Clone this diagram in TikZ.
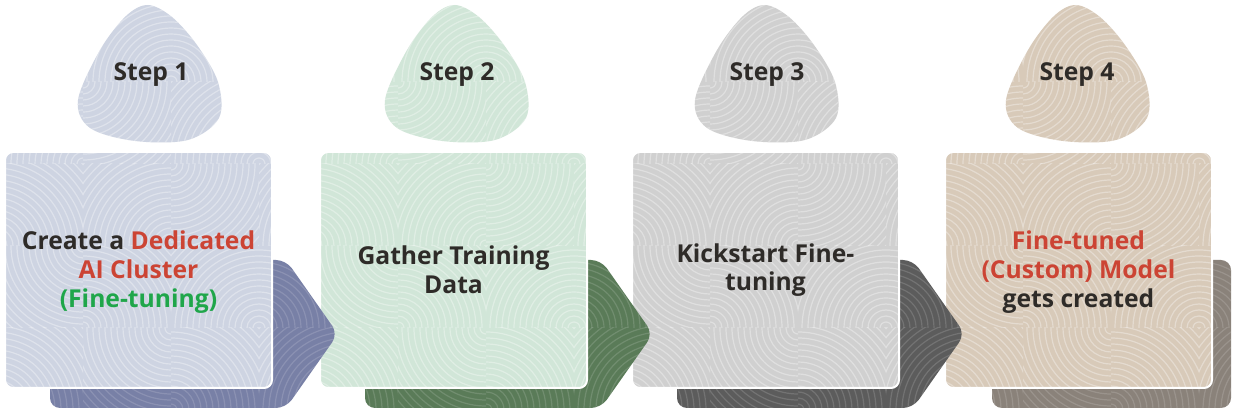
\documentclass[tikz,border=0pt]{standalone}
\usepackage{fontspec}
\setmainfont{Open Sans}
\definecolor{txtdark}{HTML}{2E2B28}
\definecolor{txtred}{HTML}{CC4434}
\definecolor{txtgreen}{HTML}{1FA64A}
\definecolor{lightA}{HTML}{CED4E2}
\definecolor{darkA}{HTML}{7880A6}
\definecolor{lightB}{HTML}{D1E6D8}
\definecolor{darkB}{HTML}{5A7B58}
\definecolor{lightC}{HTML}{D0D0D0}
\definecolor{darkC}{HTML}{5C5C5C}
\definecolor{lightD}{HTML}{D8CAB9}
\definecolor{darkD}{HTML}{8A827A}
\tikzset{
  texline/.style={draw=white, line width=0.9pt, draw opacity=0.33},
  texdark/.style={draw=white, line width=0.9pt, draw opacity=0.14},
  cardtext/.style={font=\fontsize{18.5}{21.5}\selectfont\bfseries, text=txtdark, align=center, inner sep=0pt},
  steptext/.style={font=\fontsize{18.5}{21.5}\selectfont\bfseries, text=txtdark, inner sep=0pt},
}
% one tile of swirl rings: tile corners (#1,#2)-(#3,#4), ring centre (#5,#6), style #7
\newcommand{\tilerings}[7]{\begin{scope}\clip (#1,#2) rectangle (#3,#4);
  \foreach \rr in {6,12,...,132}{\path[#7] (#5,#6) circle[radius=\rr];}\end{scope}}
% texture for one step, cards left edge #1, style #2
\newcommand{\texture}[2]{%
  \foreach \cc/\rw/\dx/\dy in {0/0/0/1, 1/0/1/1, 2/0/0/1, 3/0/1/0,
                               0/1/1/1, 1/1/0/0, 2/1/1/1, 3/1/0/1,
                               0/2/0/1, 1/2/1/1, 2/2/0/0, 3/2/1/1,
                               0/3/1/0, 1/3/0/1, 2/3/1/1, 3/3/0/1,
                               0/4/0/1, 1/4/1/0, 2/4/0/1, 3/4/1/1}{%
    \pgfmathsetmacro{\xa}{#1-10+\cc*88}\pgfmathsetmacro{\ya}{\rw*82}%
    \pgfmathsetmacro{\xb}{\xa+88}\pgfmathsetmacro{\yb}{\ya+82}%
    \pgfmathsetmacro{\xc}{\xa+\dx*88}\pgfmathsetmacro{\yc}{\ya+\dy*82}%
    \tilerings{\xa}{\ya}{\xb}{\yb}{\xc}{\yc}{#2}}}
\newcommand{\arrowpath}[1]{({#1+45},260) -- ({#1+281},260) -- ({#1+333},334) -- ({#1+281},408) -- ({#1+45},408) -- cycle}
\newcommand{\cardpath}[1]{(#1,152) rectangle ({#1+267},388)}
\newcommand{\blobpath}[1]{plot[smooth cycle, tension=0.55] coordinates {({#1-2},5) ({#1+22},17) ({#1+47},45) ({#1+68},82) ({#1+69},118) ({#1+38},140) ({#1-15},141) ({#1-60},128) ({#1-72},100) ({#1-50},50) ({#1-24},16)}}
% back shape of a step: #1 card left, #2 dark colour, #3 path
\newcommand{\backshape}[3]{%
  \fill[#2, rounded corners=7.5pt] #3;
  \begin{scope}\clip[rounded corners=7.5pt] #3; \texture{#1}{texdark}\end{scope}}
% card and blob: #1 card left, #2 blob centre x, #3 light colour
\newcommand{\cardshape}[3]{%
  \fill[#3, rounded corners=6pt] \cardpath{#1};
  \begin{scope}\clip[rounded corners=6pt] \cardpath{#1}; \texture{#1}{texline}\end{scope}
  \draw[white, line width=1.5pt, rounded corners=6pt] \cardpath{#1};
  \fill[#3] \blobpath{#2};
  \begin{scope}\clip \blobpath{#2}; \texture{#1}{texline}\end{scope}}
\begin{document}
\begin{tikzpicture}[x=0.75pt, y=-0.75pt]
\useasboundingbox (0,0) rectangle (1240,409);
\fill[white] (0,0) rectangle (1240,409);
% drawn from right to left so that each arrow lies over the next card
\backshape{945}{darkD}{({945+47},260) rectangle (1231,408)}
\cardshape{945}{1078}{lightD}
\backshape{632}{darkC}{\arrowpath{632}}
\cardshape{632}{767}{lightC}
\backshape{320}{darkB}{\arrowpath{320}}
\cardshape{320}{457}{lightB}
\backshape{5}{darkA}{\arrowpath{5}}
\cardshape{5}{150}{lightA}

\node[steptext] (s1) at (151,75) {Step 1};
\node[steptext] (s2) at (457,75) {Step 2};
\node[steptext] (s3) at (767,75) {Step 3};
\node[steptext] (s4) at (1077,75) {Step 4};

\node[cardtext] (t1) at (138.5,272) {Create a \textcolor{txtred}{Dedicated}\\\textcolor{txtred}{AI Cluster}\\\textcolor{txtgreen}{(Fine-tuning)}};
\node[cardtext] (t2) at (453.5,270) {Gather Training\\Data};
\node[cardtext] (t3) at (765.5,270) {Kickstart Fine-\\tuning};
\node[cardtext] (t4) at (1078.5,272) {\textcolor{txtred}{Fine-tuned}\\\textcolor{txtred}{(Custom) Model}\\gets created};
\end{tikzpicture}
\end{document}
